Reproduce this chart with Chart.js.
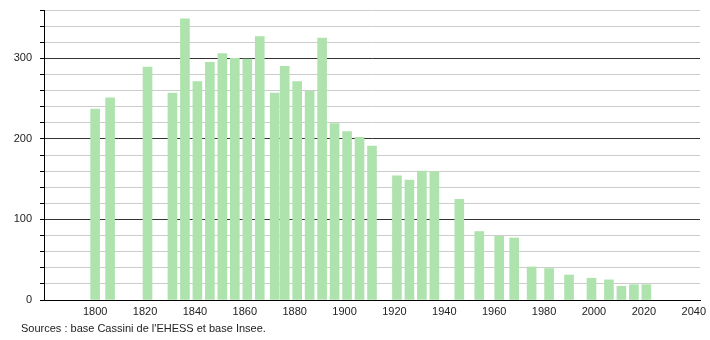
<!DOCTYPE html>
<html>
<head>
<meta charset="utf-8">
<script src="https://cdn.jsdelivr.net/npm/chart.js@4.4.1/dist/chart.umd.min.js"></script>
<style>
  html, body { margin: 0; padding: 0; background: #fff; }
  #wrap { position: relative; width: 710px; height: 340px; }
  #source {
    position: absolute; left: 21px; top: 322px;
    font: 11px "Liberation Sans", Arial, sans-serif; color: #222;
  }
</style>
</head>
<body>
<div id="wrap">
  <canvas id="chart" width="710" height="340"></canvas>
  <div id="source">Sources : base Cassini de l'EHESS et base Insee.</div>
</div>
<script>
// census years and population
const years = [1800, 1806, 1821, 1831, 1836, 1841, 1846, 1851, 1856, 1861, 1866, 1872, 1876, 1881,
  1886, 1891, 1896, 1901, 1906, 1911, 1921, 1926, 1931, 1936, 1946, 1954, 1962, 1968, 1975,
  1982, 1990, 1999, 2006, 2011, 2016, 2021];
const population = [237, 251, 289, 257, 349, 271, 295, 306, 300, 299, 327, 257, 290, 271,
  259, 325, 219, 209, 202, 191, 154, 149, 160, 159, 125, 85, 79, 77, 41,
  39, 31, 27, 25, 17, 19, 19];
const xTickLabels = [1800, 1820, 1840, 1860, 1880, 1900, 1920, 1940, 1960, 1980, 2000, 2020, 2040];
const yTickLabels = [0, 100, 200, 300];

const tickFont = { family: '"Liberation Sans", Arial, sans-serif', size: 11 };

new Chart(document.getElementById('chart'), {
  type: 'bar',
  data: {
    datasets: [{
      data: years.map((year, i) => ({ x: year, y: population[i] })),
      backgroundColor: '#aee3ae',
      barThickness: 9,
    }],
  },
  options: {
    responsive: false,
    animation: false,
    layout: { padding: { top: 10, right: 10, left: 0, bottom: 0 } },
    plugins: { legend: { display: false }, tooltip: { enabled: false } },
    scales: {
      x: {
        type: 'linear',
        offset: false,
        min: 1779.5,
        max: 2042.5,
        grid: { display: false, drawTicks: false },
        border: { color: '#000', width: 1 },
        afterBuildTicks: (scale) => {
          scale.ticks = xTickLabels.map((v) => ({ value: v }));
        },
        ticks: { color: '#222', font: tickFont, padding: 5, maxRotation: 0, autoSkip: false,
          callback: (v) => String(v) },
        afterFit: (scale) => {
          scale.height = 40;
          scale.paddingLeft = 0;
          scale.paddingRight = 0;
        },
      },
      y: {
        min: 0,
        max: 360,
        afterBuildTicks: (scale) => {
          const t = [];
          for (let v = 0; v <= 360; v += 20) t.push({ value: v });
          scale.ticks = t;
        },
        ticks: {
          color: '#222',
          font: tickFont,
          padding: 8,
          autoSkip: false,
          callback: (v) => (yTickLabels.includes(v) ? String(v) : ''),
        },
        grid: {
          color: (ctx) => (ctx.tick && ctx.tick.value % 100 === 0 ? '#333' : '#cccccc'),
          tickColor: '#000',
          tickLength: 4,
          lineWidth: 1,
        },
        border: { color: '#000', width: 1 },
        afterFit: (scale) => {
          scale.width = 44;
          scale.paddingTop = 0;
          scale.paddingBottom = 0;
        },
      },
    },
  },
});
</script>
</body>
</html>
